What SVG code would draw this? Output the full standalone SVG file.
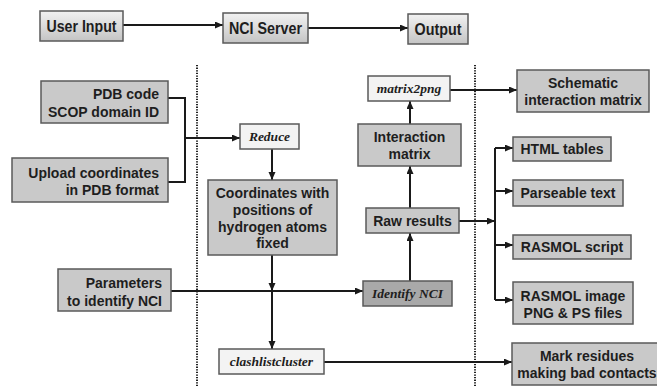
<svg xmlns="http://www.w3.org/2000/svg" width="657" height="387" viewBox="0 0 657 387">
<defs>
<linearGradient id="top" x1="0" y1="0" x2="0" y2="1">
<stop offset="0" stop-color="#f2f2f2"/>
<stop offset="1" stop-color="#c4c4c4"/>
</linearGradient>
<marker id="ah" markerWidth="9" markerHeight="8" refX="8" refY="3.5" orient="auto" markerUnits="userSpaceOnUse">
<path d="M0,0 L8,3.5 L0,7 z" fill="#1a1a1a"/>
</marker>
<style>
.box{fill:#c9c9c9;stroke:#5a5a5a;stroke-width:1.5}
.dark{fill:#a9a9a9;stroke:#5a5a5a;stroke-width:1.5}
.light{fill:#f3f3f3;stroke:#5a5a5a;stroke-width:1.5}
.tbox{fill:url(#top);stroke:#5a5a5a;stroke-width:1.5}
.t{font-family:"Liberation Sans",Arial,sans-serif;font-weight:bold;font-size:14px;fill:#1e1e1e}
.tt{font-family:"Liberation Sans",Arial,sans-serif;font-weight:bold;font-size:17px;fill:#1e1e1e}
.s{font-family:"Liberation Serif","Times New Roman",serif;font-weight:bold;font-style:italic;font-size:13.5px;fill:#1e1e1e}
.m{text-anchor:middle}
.e{text-anchor:end}
.c{fill:none;stroke:#1a1a1a;stroke-width:2}
.a{marker-end:url(#ah)}
.dot{stroke:#222;stroke-width:2;stroke-dasharray:1.3 1.3}
</style>
</defs>
<rect width="657" height="387" fill="#ffffff"/>
<g id="dividers">
<line class="dot" x1="197" y1="65" x2="197" y2="387"/>
<line class="dot" x1="475" y1="65" x2="475" y2="387"/>
</g>
<g id="connectors">
<path class="c a" d="M123,25 H223"/>
<path class="c a" d="M308,28 H408"/>
<path class="c" d="M168,98 H185 V182 H168"/>
<path class="c a" d="M185,138 H240"/>
<path class="c a" d="M272,149 V180"/>
<path class="c a" d="M272,255 V291"/>
<path class="c a" d="M272,291 V349"/>
<path class="c a" d="M171,291 H363"/>
<path class="c a" d="M410,281 V233"/>
<path class="c a" d="M410,208 V166"/>
<path class="c a" d="M410,124 V101"/>
<path class="c a" d="M450,90 H517"/>
<path class="c a" d="M459,221 H495"/>
<path class="c" d="M495,148 V300"/>
<path class="c a" d="M495,148 H513"/>
<path class="c a" d="M495,191 H513"/>
<path class="c a" d="M495,245 H513"/>
<path class="c a" d="M495,300 H513"/>
<path class="c a" d="M324,362 H512"/>
</g>
<g id="user-input"><rect class="tbox" x="40" y="11" width="83" height="30"/><text class="tt m" x="81.5" y="32" textLength="70" lengthAdjust="spacingAndGlyphs">User Input</text></g>
<g id="nci-server"><rect class="tbox" x="223" y="13" width="85" height="30"/><text class="tt m" x="265.5" y="34" textLength="73" lengthAdjust="spacingAndGlyphs">NCI Server</text></g>
<g id="output"><rect class="tbox" x="408" y="14" width="60" height="30"/><text class="tt m" x="438" y="35" textLength="47" lengthAdjust="spacingAndGlyphs">Output</text></g>
<g id="pdb-code"><rect class="box" x="41" y="81" width="127" height="42"/><text class="t e" x="159" y="99">PDB code</text><text class="t e" x="159" y="117">SCOP domain ID</text></g>
<g id="upload"><rect class="box" x="12" y="158" width="156" height="44"/><text class="t e" x="159" y="178">Upload coordinates</text><text class="t e" x="159" y="195">in PDB format</text></g>
<g id="parameters"><rect class="box" x="58" y="269" width="113" height="42"/><text class="t e" x="162" y="288">Parameters</text><text class="t e" x="162" y="306">to identify NCI</text></g>
<g id="reduce"><rect class="light" x="240" y="124" width="59" height="25"/><text class="s m" x="269.5" y="141">Reduce</text></g>
<g id="coordinates"><rect class="box" x="208" y="180" width="129" height="75"/><text class="t m" x="272.5" y="198">Coordinates with</text><text class="t m" x="272.5" y="215">positions of</text><text class="t m" x="272.5" y="232">hydrogen atoms</text><text class="t m" x="272.5" y="248">fixed</text></g>
<g id="clashlistcluster"><rect class="light" x="219" y="349" width="105" height="25"/><text class="s m" x="271.5" y="366">clashlistcluster</text></g>
<g id="identify-nci"><rect class="dark" x="363" y="281" width="89" height="25"/><text class="s m" x="407.5" y="298">Identify NCI</text></g>
<g id="raw-results"><rect class="box" x="366" y="208" width="93" height="25"/><text class="t m" x="412.5" y="226">Raw results</text></g>
<g id="interaction-matrix"><rect class="box" x="358" y="124" width="103" height="42"/><text class="t m" x="409.5" y="142">Interaction</text><text class="t m" x="409.5" y="159">matrix</text></g>
<g id="matrix2png"><rect class="light" x="368" y="76" width="82" height="25"/><text class="s m" x="409" y="93">matrix2png</text></g>
<g id="schematic"><rect class="box" x="517" y="70" width="132" height="42"/><text class="t m" x="583" y="88">Schematic</text><text class="t m" x="583" y="105">interaction matrix</text></g>
<g id="html-tables"><rect class="box" x="513" y="137" width="98" height="24"/><text class="t m" x="562" y="154">HTML tables</text></g>
<g id="parseable-text"><rect class="box" x="513" y="180" width="110" height="26"/><text class="t m" x="568" y="198">Parseable text</text></g>
<g id="rasmol-script"><rect class="box" x="513" y="235" width="118" height="24"/><text class="t m" x="572" y="252">RASMOL script</text></g>
<g id="rasmol-image"><rect class="box" x="513" y="282" width="120" height="42"/><text class="t m" x="573" y="301">RASMOL image</text><text class="t m" x="573" y="318">PNG &amp; PS files</text></g>
<g id="mark-residues"><rect class="box" x="512" y="343" width="150" height="42"/><text class="t m" x="587" y="361">Mark residues</text><text class="t m" x="587" y="378">making bad contacts</text></g>
</svg>
